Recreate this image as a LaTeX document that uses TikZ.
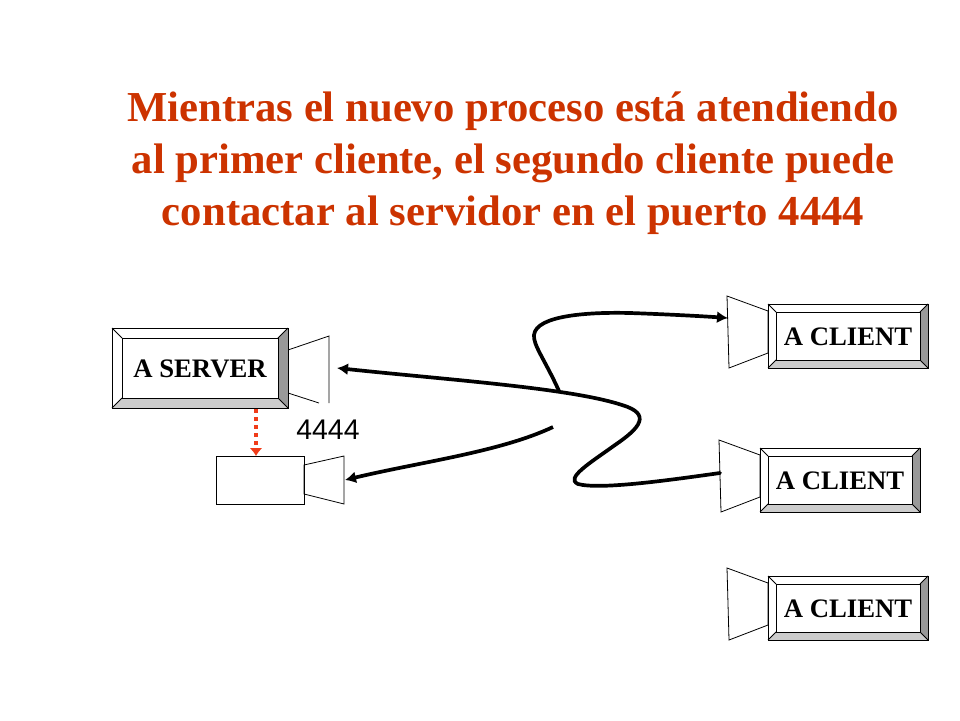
\documentclass[tikz,border=0pt]{standalone}
\usepackage{fontspec}
\setmainfont{Liberation Serif}
\newfontfamily\labelfont{Liberation Sans}
\usetikzlibrary{arrows.meta}
\definecolor{titlered}{RGB}{204,51,0}
\definecolor{dotred}{RGB}{240,60,25}
\definecolor{bevelgray}{RGB}{153,153,153}
\definecolor{bevellight}{RGB}{204,204,204}
\tikzset{
    titletext/.style={text=titlered,font=\fontsize{42.7}{52}\selectfont\bfseries,align=center},
    boxtext/.style={font=\fontsize{26.7}{30}\selectfont\bfseries},
    lens/.style={draw,line width=0.8pt,fill=white},
    wire/.style={line width=3.7pt,line cap=round},
    wirearrow/.style={wire,-{Latex[length=11pt,width=12pt]}}
}
% bevelled button: name, left, top, right, bottom, bevel, text
\newcommand{\bevelbox}[7]{
    \fill[white] (#2,#3) rectangle (#4,#5);
    \fill[bevelgray] (#4,#3) -- (#4-#6,#3+#6) -- (#4-#6,#5-#6) -- (#4,#5) -- cycle;
    \fill[bevellight] (#2,#5) -- (#2+#6,#5-#6) -- (#4-#6,#5-#6) -- (#4,#5) -- cycle;
    \draw[line width=0.8pt] (#2,#3) -- (#2+#6,#3+#6) (#4,#3) -- (#4-#6,#3+#6)
        (#2,#5) -- (#2+#6,#5-#6) (#4,#5) -- (#4-#6,#5-#6);
    \draw[line width=1pt] (#2,#3) rectangle (#4,#5);
    \draw[line width=1pt] (#2+#6,#3+#6) rectangle (#4-#6,#5-#6);
    \node[boxtext] (#1) at ({(#2+#4)/2},{(#3+#5)/2+0.5}) {#7};
}
\begin{document}
\begin{tikzpicture}[x=1pt,y=-1pt]
    \useasboundingbox (0,0) rectangle (960,720);
    \node[titletext] (title) at (513,163) {Mientras el nuevo proceso está atendiendo\\
        al primer cliente, el segundo cliente puede\\
        contactar al servidor en el puerto 4444};

    % server
    \draw[lens] (288,350) -- (329,336) -- (329,403);
    \draw[lens] (288,393) -- (319,403);
    \bevelbox{server}{112}{328}{288}{408}{10}{A SERVER}
    \node[font=\labelfont\fontsize{28.4}{30}\selectfont] (port) at (328,430) {4444};

    % new process
    \draw[lens] (304,465) -- (344,456) -- (344,504) -- (304,494) -- cycle;
    \node[draw,line width=0.8pt,minimum width=88pt,minimum height=48pt,inner sep=0pt] (process) at (260,480) {};

    % clients
    \draw[lens] (768,311) -- (727,296) -- (729,368) -- (768,353) -- cycle;
    \bevelbox{clienta}{768}{304}{928}{368}{8}{A CLIENT}
    \draw[lens] (760,455) -- (719,440) -- (721,512) -- (760,497) -- cycle;
    \bevelbox{clientb}{760}{448}{920}{512}{8}{A CLIENT}
    \draw[lens] (768,583) -- (727,568) -- (729,640) -- (768,625) -- cycle;
    \bevelbox{clientc}{768}{576}{928}{640}{8}{A CLIENT}

    \coordinate (serverlens) at (337,368);
    \coordinate (serverbase) at (256,409);
    \coordinate (processtop) at (256,456);
    \coordinate (processlens) at (345,480);
    \coordinate (clientalens) at (728,318);
    \coordinate (clientblens) at (720,473);
    \coordinate (branch) at (559,391);
    \coordinate (wireend) at (553,427);

    \draw[wirearrow] (clientblens) .. controls (670,480) and (600,490) .. (578,484)
        .. controls (565,478) and (590,463) .. (615,445)
        .. controls (640,428) and (652,414) .. (622,405)
        .. controls (570,388) and (450,380) .. (serverlens);
    \draw[wirearrow] (branch) .. controls (545,360) and (533,345) .. (534,335)
        .. controls (536,315) and (590,312) .. (630,313)
        .. controls (660,314) and (700,316) .. (clientalens);
    \draw[wirearrow,line cap=butt] (wireend) .. controls (500,452) and (420,462) .. (processlens);
    \draw[dotred,line width=4pt,dash pattern=on 4pt off 4pt,-{Latex[length=8pt,width=13pt,fill=dotred]}] (serverbase) -- (processtop);
\end{tikzpicture}
\end{document}
